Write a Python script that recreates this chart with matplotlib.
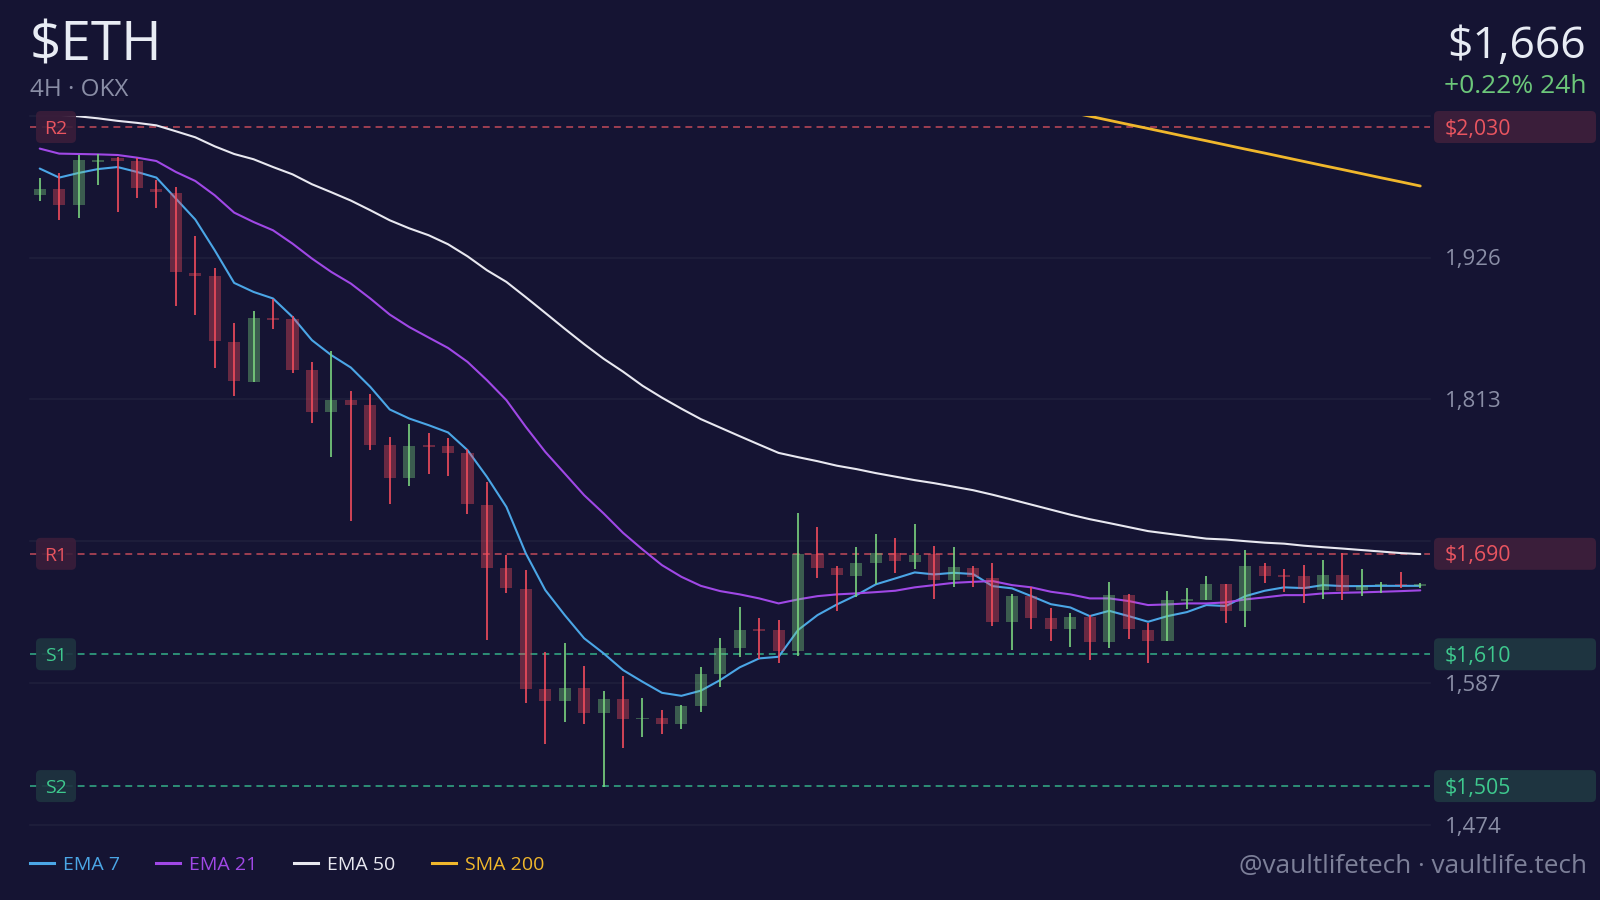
import matplotlib
matplotlib.use("Agg")
import matplotlib.pyplot as plt
from matplotlib.patches import FancyBboxPatch
from matplotlib.lines import Line2D
import numpy as np

# --- data (4H candles, OKX) ---
opens = [1975.6, 1980.4, 1967.6, 2002.4, 2005.0, 2002.7, 1980.4, 1977.4, 1913.7, 1911.7,
         1859.1, 1827.0, 1878.0, 1877.1, 1836.3, 1802.6, 1812.4, 1808.2, 1776.6, 1750.5,
         1776.0, 1775.8, 1770.0, 1728.8, 1678.9, 1661.9, 1582.0, 1573.0, 1582.8, 1562.9,
         1574.3, 1558.2, 1559.5, 1554.2, 1569.0, 1594.2, 1614.7, 1629.8, 1629.3, 1612.5,
         1689.5, 1678.9, 1672.5, 1682.8, 1690.3, 1683.6, 1689.8, 1669.1, 1679.0, 1670.7,
         1635.9, 1656.6, 1639.1, 1630.0, 1639.4, 1619.5, 1657.1, 1629.3, 1620.7, 1652.6,
         1653.2, 1666.0, 1644.6, 1680.2, 1673.0, 1672.3, 1661.1, 1672.8, 1660.8, 1665.0,
         1666.0, 1664.5]
highs = [1989.4, 1993.4, 2007.7, 2008.8, 2006.0, 2005.3, 1988.1, 1982.2, 1943.2, 1917.5,
         1873.5, 1883.2, 1892.6, 1879.3, 1843.2, 1851.4, 1819.5, 1817.2, 1782.7, 1793.8,
         1786.4, 1781.9, 1773.9, 1747.3, 1689.0, 1677.0, 1612.0, 1618.7, 1600.6, 1580.7,
         1592.6, 1575.4, 1565.6, 1569.6, 1600.0, 1622.7, 1647.3, 1639.0, 1637.2, 1722.2,
         1711.0, 1680.0, 1695.6, 1705.7, 1703.0, 1713.5, 1696.1, 1695.1, 1680.2, 1682.4,
         1658.0, 1663.3, 1646.5, 1643.1, 1641.2, 1667.2, 1658.0, 1635.1, 1660.6, 1662.5,
         1672.3, 1666.0, 1693.0, 1682.4, 1677.6, 1681.0, 1685.0, 1690.3, 1677.6, 1667.7,
         1675.7, 1667.0]
lows = [1970.8, 1955.7, 1957.8, 1983.6, 1962.3, 1973.5, 1965.8, 1887.5, 1880.1, 1838.1,
        1815.8, 1827.0, 1868.9, 1834.1, 1794.3, 1767.2, 1716.3, 1772.6, 1729.6, 1743.9,
        1753.2, 1751.9, 1721.6, 1621.3, 1658.5, 1571.0, 1538.3, 1556.3, 1554.2, 1504.0,
        1535.1, 1544.3, 1546.5, 1550.4, 1563.7, 1584.0, 1608.0, 1606.0, 1602.8, 1608.6,
        1670.4, 1644.4, 1655.8, 1665.9, 1674.9, 1677.6, 1653.7, 1663.7, 1663.7, 1632.7,
        1613.3, 1629.8, 1620.7, 1616.0, 1605.4, 1615.2, 1621.9, 1603.2, 1620.7, 1645.7,
        1653.2, 1635.1, 1631.9, 1666.4, 1659.8, 1651.0, 1653.7, 1653.2, 1656.6, 1658.5,
        1662.5, 1663.0]
closes = [1980.4, 1967.6, 2003.5, 2004.0, 2003.0, 1981.4, 1978.2, 1914.5, 1911.7, 1859.4,
          1827.5, 1877.7, 1876.6, 1836.3, 1802.6, 1812.4, 1808.2, 1776.8, 1750.8, 1776.0,
          1775.2, 1770.0, 1729.3, 1678.9, 1662.5, 1582.3, 1573.0, 1582.8, 1562.9, 1574.3,
          1558.2, 1559.2, 1554.2, 1568.8, 1594.0, 1614.7, 1629.3, 1628.7, 1612.5, 1689.5,
          1678.9, 1673.0, 1682.4, 1690.3, 1684.2, 1689.0, 1669.1, 1679.2, 1671.7, 1635.4,
          1656.6, 1639.1, 1630.0, 1639.4, 1619.5, 1657.1, 1629.8, 1620.7, 1653.2, 1654.0,
          1666.0, 1644.6, 1680.2, 1672.5, 1671.7, 1661.7, 1672.8, 1660.3, 1664.3, 1666.0,
          1665.0, 1666.3]

ema7 = [1996.9, 1989.7, 1993.4, 1996.5, 1998.1, 1994.2, 1989.7, 1973.0, 1956.3, 1931.8,
        1905.8, 1898.6, 1893.4, 1878.7, 1860.2, 1848.2, 1838.4, 1823.0, 1805.0, 1797.8,
        1792.5, 1786.7, 1772.6, 1751.3, 1727.4, 1690.3, 1661.1, 1641.2, 1622.7, 1610.7,
        1597.4, 1588.1, 1579.3, 1576.9, 1581.0, 1589.5, 1599.6, 1606.7, 1608.0, 1629.3,
        1641.2, 1649.7, 1657.1, 1665.7, 1670.4, 1675.2, 1673.6, 1674.9, 1673.9, 1664.3,
        1662.5, 1656.3, 1649.9, 1647.3, 1640.4, 1644.6, 1640.4, 1635.9, 1640.4, 1643.6,
        1649.2, 1648.4, 1656.3, 1660.6, 1663.3, 1662.7, 1665.1, 1664.3, 1664.3, 1664.5,
        1664.5, 1664.5]
ema21 = [2012.8, 2008.8, 2008.5, 2008.2, 2007.7, 2005.6, 2002.9, 1994.2, 1987.0, 1975.6,
         1961.8, 1954.3, 1947.7, 1937.1, 1925.2, 1914.5, 1905.3, 1893.4, 1880.6, 1870.7,
         1862.3, 1854.0, 1842.9, 1828.3, 1812.4, 1791.1, 1771.2, 1754.0, 1736.7, 1722.2,
         1706.7, 1693.5, 1681.0, 1671.7, 1664.5, 1660.3, 1657.7, 1654.5, 1650.5, 1653.7,
         1656.3, 1657.7, 1658.5, 1659.5, 1660.6, 1663.3, 1665.1, 1666.9, 1667.7, 1668.3,
         1665.1, 1663.3, 1659.8, 1657.7, 1654.5, 1654.5, 1652.4, 1649.2, 1649.7, 1650.5,
         1650.5, 1651.3, 1653.7, 1655.3, 1657.1, 1657.1, 1658.5, 1659.0, 1659.3, 1659.8,
         1660.3, 1660.9]
ema50 = [2040.9, 2039.7, 2038.5, 2036.9, 2034.9, 2033.3, 2031.3, 2026.6, 2021.8, 2014.6,
         2008.5, 2004.3, 1998.1, 1992.3, 1984.4, 1978.0, 1971.4, 1963.7, 1955.7, 1949.3,
         1943.8, 1936.6, 1927.0, 1915.9, 1906.6, 1894.4, 1881.9, 1869.3, 1857.0, 1845.4,
         1835.1, 1823.9, 1814.4, 1805.6, 1797.3, 1790.5, 1783.7, 1777.0, 1770.4, 1767.0,
         1763.8, 1760.2, 1757.5, 1754.3, 1751.5, 1748.7, 1746.3, 1743.5, 1740.7, 1737.1,
         1733.2, 1729.2, 1725.2, 1721.2, 1717.6, 1714.5, 1711.3, 1708.1, 1706.1, 1704.1,
         1702.1, 1701.4, 1700.1, 1698.9, 1698.1, 1696.5, 1695.3, 1694.2, 1693.0, 1691.8,
         1690.6, 1689.8]
sma200 = [None] * 52 + [2045.1, 2041.8, 2038.6, 2035.3, 2032.0, 2028.8, 2025.5, 2022.2,
                        2019.0, 2015.7, 2012.4, 2009.2, 2005.9, 2002.6, 1999.3, 1996.1,
                        1992.8, 1989.5, 1986.3, 1983.0]

levels = [2030, 1690, 1610, 1505]
level_names = ["R2", "R1", "S1", "S2"]
level_labels = ["$2,030", "$1,690", "$1,610", "$1,505"]

grid_values = [1474, 1587, 1700, 1813, 1926, 2039]
tick_values = [1474, 1587, 1813, 1926]
tick_labels = ["1,474", "1,587", "1,813", "1,926"]

series_names = ["EMA 7", "EMA 21", "EMA 50", "SMA 200"]

# --- style ---
BG = "#151433"
GRID = "#1f1f3c"
UP = "#7bd37f"
DOWN = "#f24c5c"
LINE_COLORS = ["#4ba6e6", "#a048e6", "#e8e8f0", "#f0b72c"]
RES_LINE, RES_TEXT, RES_BOX = "#c24a5a", "#ea5560", "#3a1e3a"
SUP_LINE, SUP_TEXT, SUP_BOX = "#34b088", "#3ec98e", "#1e3440"
MUTED = "#8a8ea6"

plt.rcParams["font.family"] = ["Open Sans", "DejaVu Sans"]

W, H = 1600, 900
PT = 100 / 72  # px per point
CAP = 0.714    # cap height of Open Sans, in em

fig = plt.figure(figsize=(16, 9), dpi=100, facecolor=BG)
ax = fig.add_axes([30 / W, 75 / H, 1400 / W, 709.3 / H])
ax.set_facecolor(BG)
n = len(closes)
ax.set_xlim(-0.5, n - 0.5)
ax.set_ylim(1474, 2039)
for s in ax.spines.values():
    s.set_visible(False)
ax.set_xticks([])
ax.set_yticks([])

for v in grid_values:
    ax.axhline(v, color=GRID, lw=1.2, zorder=0, clip_on=False)

x = np.arange(n)
o = np.array(opens)
c = np.array(closes)
hi = np.array(highs)
lo = np.array(lows)
up = c >= o
bottom = np.minimum(o, c)
height = np.maximum(np.abs(c - o), 1.2)

# moving averages
for vals, col, lw in zip([ema7, ema21, ema50, sma200], LINE_COLORS, [1.5, 1.5, 1.5, 2.0]):
    arr = np.array([np.nan if v is None else v for v in vals], dtype=float)
    ax.plot(x, arr, color=col, lw=lw, zorder=2, solid_capstyle="round")

# candles
ax.bar(x[up], height[up], bottom=bottom[up], width=0.62, color=UP, alpha=0.38,
       linewidth=0, zorder=3)
ax.bar(x[~up], height[~up], bottom=bottom[~up], width=0.62, color=DOWN, alpha=0.38,
       linewidth=0, zorder=3)
ax.vlines(x, lo, hi, colors=[UP if u else DOWN for u in up], lw=1.2, zorder=4)

# levels
inv = fig.transFigure.inverted()


def fig_y(v):
    return inv.transform(ax.transData.transform((0, v)))[1]


def mid_text(xf, yf, s, size, **kw):
    # put the cap-height middle of the text on yf
    off = size * PT * CAP / 2 / H
    return fig.text(xf, yf - off, s, fontsize=size, va="baseline", **kw)


for lvl, name, lab in zip(levels, level_names, level_labels):
    res = name.startswith("R")
    lc, tc, bc = (RES_LINE, RES_TEXT, RES_BOX) if res else (SUP_LINE, SUP_TEXT, SUP_BOX)
    ax.axhline(lvl, color=lc, lw=1.1, dashes=(4.5, 3.3), zorder=1)
    yf = fig_y(lvl)
    fig.add_artist(FancyBboxPatch((36 / W, yf - 16 / H), 40 / W, 32 / H,
                                  boxstyle="round,pad=0,rounding_size=0.003",
                                  mutation_aspect=W / H, transform=fig.transFigure,
                                  facecolor=bc, edgecolor="none", alpha=0.9, zorder=5))
    mid_text(56 / W, yf, name, 14, color=tc, ha="center", zorder=6)
    fig.add_artist(FancyBboxPatch((1434 / W, yf - 16 / H), 162 / W, 32 / H,
                                  boxstyle="round,pad=0,rounding_size=0.003",
                                  mutation_aspect=W / H, transform=fig.transFigure,
                                  facecolor=bc, edgecolor="none", zorder=5))
    mid_text(1445 / W, yf, lab, 15.3, color=tc, ha="left", zorder=6)

for v, lab in zip(tick_values, tick_labels):
    mid_text(1445 / W, fig_y(v), lab, 16, color=MUTED, ha="left")

# header
fig.text(30 / W, 1 - 61 / H, "$ETH", color="#e8ecf4", fontsize=39.5, ha="left", va="baseline")
fig.text(30 / W, 1 - 96 / H, "4H · OKX", color=MUTED, fontsize=17.5, ha="left", va="baseline")
fig.text(1586 / W, 1 - 58 / H, "$1,666", color="#e8ecf4", fontsize=32, ha="right", va="baseline")
fig.text(1586 / W, 1 - 93 / H, "+0.22% 24h", color="#6cc77a", fontsize=19, ha="right",
         va="baseline")

# legend
ly = 1 - 863 / H
for lx, name, col in zip([30, 156, 294, 432], series_names, LINE_COLORS):
    fig.add_artist(Line2D([lx / W, (lx + 24) / W], [ly, ly], color=col, lw=2.2,
                          transform=fig.transFigure))
    mid_text((lx + 33) / W, ly, name, 14, color=col, ha="left")

fig.text(1587 / W, 1 - 873 / H, "@vaultlifetech · vaultlife.tech", color="#7d8099",
         fontsize=18.8, ha="right", va="baseline")

fig.savefig("out.png", dpi=100, facecolor=BG)
plt.close(fig)
